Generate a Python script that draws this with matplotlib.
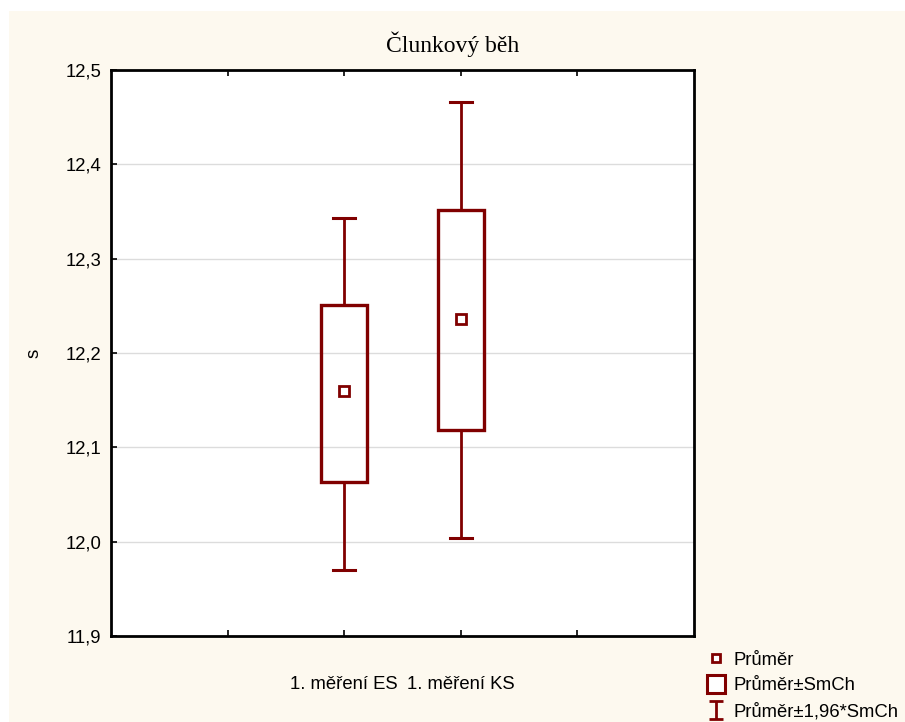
import matplotlib
matplotlib.use("Agg")
import matplotlib.pyplot as plt
import numpy as np
from matplotlib.lines import Line2D
from matplotlib.patches import Rectangle
from matplotlib.path import Path

categories = ["1. měření ES", "1. měření KS"]
means = [12.160, 12.236]
se_low = [12.063, 12.118]
se_high = [12.251, 12.352]
ci_low = [11.970, 12.004]
ci_high = [12.343, 12.466]
yticks = [11.9, 12.0, 12.1, 12.2, 12.3, 12.4, 12.5]

red = "#800000"
cream = "#fdf9ef"
plt.rcParams['font.family'] = ['Liberation Sans', 'DejaVu Sans']

fig = plt.figure(figsize=(9.05, 7.22), dpi=100)
fig.patch.set_facecolor("white")
fig.patches.append(Rectangle((9/905, 0), 1, 1 - 11/722, transform=fig.transFigure,
                             facecolor=cream, edgecolor="none", zorder=-10))

ax = fig.add_axes([111/905, 1 - 636/722, (694-111)/905, (636-70)/722])
ax.set_facecolor("white")

xpos = [2, 3]
bw = 0.39
cw = 0.19
for x, m, sl, sh, cl, ch in zip(xpos, means, se_low, se_high, ci_low, ci_high):
    ax.add_patch(Rectangle((x - bw/2, sl), bw, sh - sl, fill=False, edgecolor=red, lw=2.4, zorder=3))
    ax.plot([x, x], [sh, ch], color=red, lw=2, zorder=3)
    ax.plot([x, x], [sl, cl], color=red, lw=2, zorder=3)
    ax.plot([x - cw/2, x + cw/2], [ch, ch], color=red, lw=2.2, zorder=3)
    ax.plot([x - cw/2, x + cw/2], [cl, cl], color=red, lw=2.2, zorder=3)
    ax.plot(x, m, marker="s", ms=7, mfc="white", mec=red, mew=2, zorder=4)

ax.set_xlim(0, 5)
ax.set_ylim(11.9, 12.5)
ax.set_yticks(yticks)
ax.set_yticklabels([("%.1f" % v).replace(".", ",") for v in yticks], fontsize=13.3)
ax.set_xticks([1, 2, 3, 4])
ax.set_xticklabels([])
for x, lab in zip(xpos, categories):
    ax.text(x, -0.085, lab, transform=ax.get_xaxis_transform(), ha="center", va="center",
            fontsize=13.3)
ax.tick_params(axis="both", direction="in", length=4, width=1.2, top=True, right=False,
               colors="black", pad=7)
ax.grid(axis="y", color="#dcdcdc", lw=1)
ax.set_axisbelow(True)
for s in ax.spines.values():
    s.set_linewidth(2)
ax.set_ylabel("s", fontsize=13.3)
ax.yaxis.set_label_coords(-0.118, 0.5)

fig.text(0.5, 1 - 44/722, "Člunkový běh", ha="center", va="center",
         fontsize=17, family="Liberation Serif")

ibeam = Path([(-0.8, -1), (0.8, -1), (0, -1), (0, 1), (-0.8, 1), (0.8, 1)],
             [Path.MOVETO, Path.LINETO, Path.MOVETO, Path.LINETO, Path.MOVETO, Path.LINETO])
handles = [
    Line2D([], [], ls="none", marker="s", ms=6, mfc="white", mec=red, mew=2),
    Line2D([], [], ls="none", marker="s", ms=13, mfc="white", mec=red, mew=2.2),
    Line2D([], [], ls="none", marker=ibeam, ms=13, mfc="none", mec=red, mew=2),
]
labels = ["Průměr", "Průměr±SmCh", "Průměr±1,96*SmCh"]
fig.legend(handles, labels, loc="center left", bbox_to_anchor=(698/905, 1 - 686/722),
           frameon=False, fontsize=13.3, handlelength=1.0, handletextpad=0.4,
           labelspacing=0.45, borderpad=0)

fig.savefig("out.png", dpi=100, facecolor=fig.get_facecolor())
